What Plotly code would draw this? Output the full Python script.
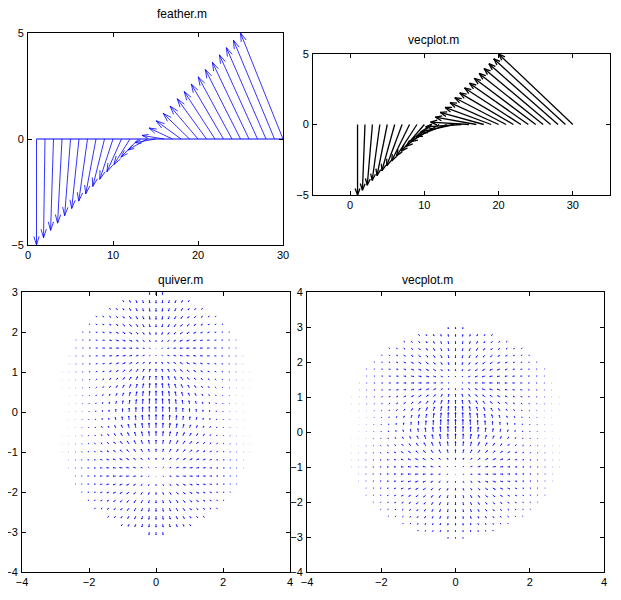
import numpy as np
import plotly.graph_objects as go

W, H = 613, 592
OX, OY = 8, 8
feather_u = [0,-0.17,-0.34,-0.52,-0.69,-0.86,-1.03,-1.21,-1.38,-1.55,-1.72,-1.90,-2.07,-2.24,-2.41,-2.59,-2.76,-2.93,-3.10,-3.28,-3.45,-3.62,-3.79,-3.97,-4.14,-4.31,-4.48,-4.66,-4.83,-5.0]
feather_v = [-5.0,-4.66,-4.31,-3.97,-3.62,-3.28,-2.93,-2.59,-2.24,-1.90,-1.55,-1.21,-0.86,-0.52,-0.17,0.17,0.52,0.86,1.21,1.55,1.90,2.24,2.59,2.93,3.28,3.62,3.97,4.31,4.66,5.0]
vec_u = [0,-0.34,-0.69,-1.03,-1.38,-1.72,-2.07,-2.41,-2.76,-3.10,-3.45,-3.79,-4.14,-4.48,-4.83,-5.17,-5.52,-5.86,-6.21,-6.55,-6.90,-7.24,-7.59,-7.93,-8.28,-8.62,-8.97,-9.31,-9.66,-10.0]
vec_v = feather_v
bases = list(range(1, 31))

boxes = {
    1: (28, 283, 33, 245, [0, 30], [-5, 5]),
    2: (313, 610, 54, 195, [-5, 35], [-5, 5]),
    3: (22, 290, 292, 572, [-4, 4], [-4, 3]),
    4: (307, 604, 292, 572, [-4, 4], [-4, 4]),
}

def arrows(x0, y0, x1, y1, box, head_px, ang=0.45):
    l, r, t, b, xr, yr = box
    sx = (r - l) / (xr[1] - xr[0]); sy = (b - t) / (yr[1] - yr[0])
    X, Y = [], []
    for a, bb, c, d in zip(x0, y0, x1, y1):
        dx, dy = (c - a) * sx, (d - bb) * sy
        L = np.hypot(dx, dy)
        X += [a, c, None]; Y += [bb, d, None]
        if L > 0:
            hl = min(head_px, 0.3 * L)
            th = np.arctan2(dy, dx)
            for s in (1, -1):
                hx = c - hl * np.cos(th + s * ang) / sx
                hy = d - hl * np.sin(th + s * ang) / sy
                X += [c, hx, None]; Y += [d, hy, None]
    return X, Y

fig = go.Figure()
fx, fy = arrows(bases, [0]*30, [b+u for b, u in zip(bases, feather_u)], feather_v, boxes[1], 9, 0.3)
fig.add_trace(go.Scatter(x=[1, 30], y=[0, 0], mode="lines", line=dict(color="blue", width=1), xaxis="x", yaxis="y"))
fig.add_trace(go.Scatter(x=fx, y=fy, mode="lines", line=dict(color="blue", width=0.8), xaxis="x", yaxis="y"))
vx, vy = arrows(bases, [0]*30, [b+u for b, u in zip(bases, vec_u)], vec_v, boxes[2], 7, 0.35)
fig.add_trace(go.Scatter(x=vx, y=vy, mode="lines", line=dict(color="black", width=1.3), xaxis="x2", yaxis="y2"))

g = np.round(np.arange(-3, 3.01, 0.2), 2)
GX, GY = np.meshgrid(g, g)
m = GX**2 + GY**2 <= 9.1
px, py = GX[m], GY[m]
def field(cy1, cy2, scale, s2=2.0):
    e1 = np.exp(-(px**2 + (py - cy1)**2) / s2)
    e2 = np.exp(-(px**2 + (py - cy2)**2) / s2)
    u = -px*e1 + px*e2
    v = -(py-cy1)*e1 + (py-cy2)*e2
    return px, py, px + scale*u, py + scale*v
for ax, (c1, c2, sc) in ((3, (1.5, -1.5, 0.14)), (4, (1.3, -1.0, 0.14))):
    a, b_, c, d = field(c1, c2, sc)
    qx, qy = arrows(a, b_, c, d, boxes[ax], 2.5, 0.4)
    fig.add_trace(go.Scatter(x=qx, y=qy, mode="lines", line=dict(color="blue", width=0.8),
                             xaxis=f"x{ax}", yaxis=f"y{ax}"))

lay = dict(width=W, height=H, margin=dict(l=0, r=0, t=0, b=0), showlegend=False,
           plot_bgcolor="white", paper_bgcolor="white",
           font=dict(family="Liberation Sans, Arial", size=11, color="black"))
ticks = {1: ([0, 10, 20, 30], [-5, 0, 5]), 2: ([0, 10, 20, 30], [-5, 0, 5]),
         3: (list(range(-4, 5, 2)), list(range(-4, 4))), 4: (list(range(-4, 5, 2)), list(range(-4, 5)))}
for k, (l, r, t, b, xr, yr) in boxes.items():
    s = "" if k == 1 else str(k)
    common = dict(showgrid=False, zeroline=False, showline=True, mirror="ticks", linecolor="black",
                  linewidth=1, ticks="inside", ticklen=4, tickcolor="black", fixedrange=True,
                  automargin=False)
    lay["xaxis" + s] = dict(domain=[(l-OX)/W, (r-OX)/W], range=xr, anchor="y" + s, tickvals=ticks[k][0], **common)
    lay["yaxis" + s] = dict(domain=[1 - (b-OY)/H, 1 - (t-OY)/H], range=yr, anchor="x" + s, tickvals=ticks[k][1], ticklabelstandoff=1, **common)
fig.update_layout(**lay)
for txt, x, y in (("feather.m", 155, 14), ("vecplot.m", 461, 40), ("quiver.m", 156, 280), ("vecplot.m", 455, 280)):
    fig.add_annotation(text=txt, x=(x-OX)/W, y=1-(y-OY)/H, xref="paper", yref="paper", showarrow=False,
                       font=dict(size=12), yanchor="middle")
fig.write_html("out.html")
